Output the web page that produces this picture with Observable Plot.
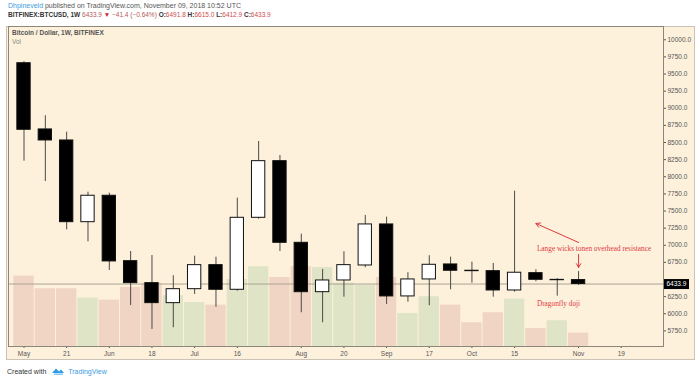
<!DOCTYPE html>
<html><head><meta charset="utf-8">
<script src="https://cdn.jsdelivr.net/npm/d3@7"></script>
<script src="https://cdn.jsdelivr.net/npm/@observablehq/plot@0.6"></script>
<style>
body{margin:0;background:#fff;}
#wrap{position:relative;width:700px;height:380px;overflow:hidden;font-family:"Liberation Sans",Arial,sans-serif;}
.abs{position:absolute;white-space:nowrap;}
#frame{left:6px;top:26px;width:689px;height:334px;border:1px solid #cbc4b6;background:#fdf1dc;box-sizing:border-box;}
#h1{left:8px;top:2px;font-size:7px;line-height:8px;color:#555;}
#h2{left:8px;top:11px;font-size:6.5px;line-height:8px;color:#333;}
#t1{left:12px;top:29px;font-size:6.5px;line-height:7.5px;color:#555;font-weight:bold;}
#t2{left:12px;top:38px;font-size:6.5px;line-height:7.5px;color:#888;}
#foot{left:7px;top:366px;font-size:7px;line-height:9px;color:#333;}
#vol,#price{left:0;top:0;}
.red{color:#cf4b4b;}
.blue{color:#3d9be0;}
</style></head>
<body>
<div id="wrap">
  <div id="frame" class="abs"></div>
  <div id="vol" class="abs"></div>
  <div id="price" class="abs"></div>
  <div id="h1" class="abs"></div>
  <div id="h2" class="abs"></div>
  <div id="t1" class="abs">Bitcoin / Dollar, 1W, BITFINEX</div>
  <div id="t2" class="abs">Vol</div>
  <div id="foot" class="abs">Created with <svg width="14" height="9" viewBox="0 0 14 9" style="vertical-align:-1px;margin:0 3px 0 3px"><path d="M1 7 L5 2.5 L8 5.5 L10 3.5 L13 7 Z" fill="#2e9be6"/><path d="M3 8.2 H12" stroke="#7cc3f0" stroke-width="1.4"/></svg><span class="blue">TradingView</span></div>
</div>
<script>
const weeks = ["2018-05-07","2018-05-14","2018-05-21","2018-05-28","2018-06-04","2018-06-11","2018-06-18","2018-06-25","2018-07-02","2018-07-09","2018-07-16","2018-07-23","2018-07-30","2018-08-06","2018-08-13","2018-08-20","2018-08-27","2018-09-03","2018-09-10","2018-09-17","2018-09-24","2018-10-01","2018-10-08","2018-10-15","2018-10-22","2018-10-29","2018-11-05"];
const opens  = [9658,8691,8530,7337,7723,6768,6447,6155,6359,6710,6350,7401,8228,7036,6315,6486,6705,7304,6253,6501,6720,6628,6622,6340,6593,6490,6491.8];
const highs  = [9680,8891,8651,7775,7761,6909,6851,6555,6841,6826,7688,8515,8311,7162,6647,6905,7435,7410,6599,6847,6826,6753,6734,7790,6642,6512,6615.0];
const lows   = [8228,7931,7226,7051,6632,6121,5771,5796,6282,6096,6330,7380,6909,6015,5869,6242,6672,6136,6169,6117,6350,6447,6242,6315,6467,6257,6412.9];
const closes = [8686,8530,7337,7723,6764,6447,6155,6359,6710,6350,7401,8228,7036,6315,6486,6710,7304,6253,6501,6715,6628,6622,6340,6599,6496,6495,6433.9];
const volumes = [352000,289000,289000,242000,232000,295000,317000,254000,220000,207000,335000,399000,345000,399000,395000,317000,305000,345000,165000,249000,207000,119000,169000,237000,90000,129000,67000];

const tickDates  = ["2018-05-07","2018-05-21","2018-06-04","2018-06-18","2018-07-02","2018-07-16","2018-08-06","2018-08-20","2018-09-03","2018-09-17","2018-10-01","2018-10-15","2018-11-05","2018-11-19"];
const tickLabels = ["May","21","Jun","18","Jul","16","Aug","20","Sep","17","Oct","15","Nov","19"];
const priceTicks = [5750,6000,6250,6750,7000,7250,7500,7750,8000,8250,8500,8750,9000,9250,9500,9750,10000];

const noteTexts  = ["Lange wicks tonen overhead resistance","Dragonfly doji"];
const noteDates  = ["2018-10-22","2018-10-22"];
const notePrices = [6954,6150];
const arrowFromDates = ["2018-11-05","2018-11-05"];
const arrowFromPrices = [7041,6866];
const arrowToDates = ["2018-10-22","2018-11-05"];
const arrowToPrices = [7318,6676];

const headerAuthor = "Dhpineveld";
const headerPublished = " published on TradingView.com, November 09, 2018 10:52 UTC";
const headerSymbol = "BITFINEX:BTCUSD, 1W";
const headerChange = "−41.4 (−0.64%)";

const candles = weeks.map((w,i)=>({date:new Date(w+"T00:00Z"),open:opens[i],high:highs[i],low:lows[i],close:closes[i],volume:volumes[i],up:closes[i]>=opens[i]}));
const last = candles[candles.length-1];
const notes = noteTexts.map((t,i)=>({text:t,date:new Date(noteDates[i]+"T00:00Z"),price:notePrices[i]}));
const arrows = arrowFromDates.map((d,i)=>({x1:new Date(d+"T00:00Z"),y1:arrowFromPrices[i],x2:new Date(arrowToDates[i]+"T00:00Z"),y2:arrowToPrices[i]}));
const labelMap = new Map(tickDates.map((d,i)=>[+new Date(d+"T00:00Z"),tickLabels[i]]));

document.getElementById("h1").innerHTML = `<span class="blue">${headerAuthor}</span>${headerPublished}`;
document.getElementById("h2").innerHTML = `<b>${headerSymbol}</b> <span style="color:#b45a5a">${last.close.toFixed(1)}</span> <span style="color:#d8262b">▼</span> <span style="color:#b45a5a">${headerChange}</span> <b>O:</b><span class="red">${last.open.toFixed(1)}</span> <b>H:</b><span class="red">${last.high.toFixed(1)}</span> <b>L:</b><span class="red">${last.low.toFixed(1)}</span> <b>C:</b><span class="red">${last.close.toFixed(1)}</span>`;

const half = 3.5*864e5;
const xDomain = [new Date("2018-05-01T21:55Z"), new Date("2018-12-02T20:53Z")];
const common = {width:700,height:380,marginTop:26,marginBottom:34,marginLeft:8,marginRight:37};

const volPlot = Plot.plot({
  ...common,
  style:{background:"transparent"},
  x:{type:"utc",domain:xDomain,axis:null},
  y:{domain:[0,1600000],axis:null},
  marks:[
    Plot.rect(candles,{x1:d=>new Date(+d.date-half),x2:d=>new Date(+d.date+half),y1:0,y2:"volume",
      fill:d=>d.up?"#dee4c5":"#f0d5c4",insetLeft:0.5,insetRight:0.5})
  ]
});
document.getElementById("vol").appendChild(volPlot);

const pricePlot = Plot.plot({
  ...common,
  style:{background:"transparent",fontFamily:"Liberation Sans, Arial, sans-serif",fontSize:"6.5px",color:"#555",overflow:"visible"},
  x:{type:"utc",domain:xDomain,ticks:tickDates.map(d=>new Date(d+"T00:00Z")),tickFormat:d=>labelMap.get(+d),tickSize:2,tickPadding:3,label:null},
  y:{domain:[5522,10194],ticks:priceTicks,tickFormat:d=>d.toFixed(1),tickSize:2,tickPadding:2,axis:"right",label:null},
  marks:[
    Plot.ruleY([last],{y:"close",stroke:"#aaa393",strokeWidth:1}),
    Plot.ruleX(candles,{x:"date",y1:"low",y2:"high",stroke:"#4a4a44",strokeWidth:1}),
    Plot.rect(candles,{x1:d=>new Date(+d.date-half),x2:d=>new Date(+d.date+half),y1:"open",y2:"close",
      fill:d=>d.up?"#ffffff":"#000000",stroke:"#111111",strokeWidth:1,insetLeft:4,insetRight:4}),
    Plot.arrow(arrows,{x1:"x1",y1:"y1",x2:"x2",y2:"y2",stroke:"#e0383f",strokeWidth:1,headLength:7}),
    Plot.text(notes,{x:"date",y:"price",text:"text",textAnchor:"start",dx:1,fill:"#e0383f",fontSize:7.3,fontFamily:"Liberation Serif, Times New Roman, serif"}),
    Plot.frame({stroke:"#8d877b"}),
    Plot.ruleY([last],{y:"close",stroke:"#000",strokeWidth:10,insetLeft:656,insetRight:-26}),
    Plot.text([last],{y:"close",text:d=>d.close.toFixed(1),frameAnchor:"right",textAnchor:"start",dx:3,fill:"#fff",fontSize:6.5})
  ]
});
document.getElementById("price").appendChild(pricePlot);
</script>
</body></html>
